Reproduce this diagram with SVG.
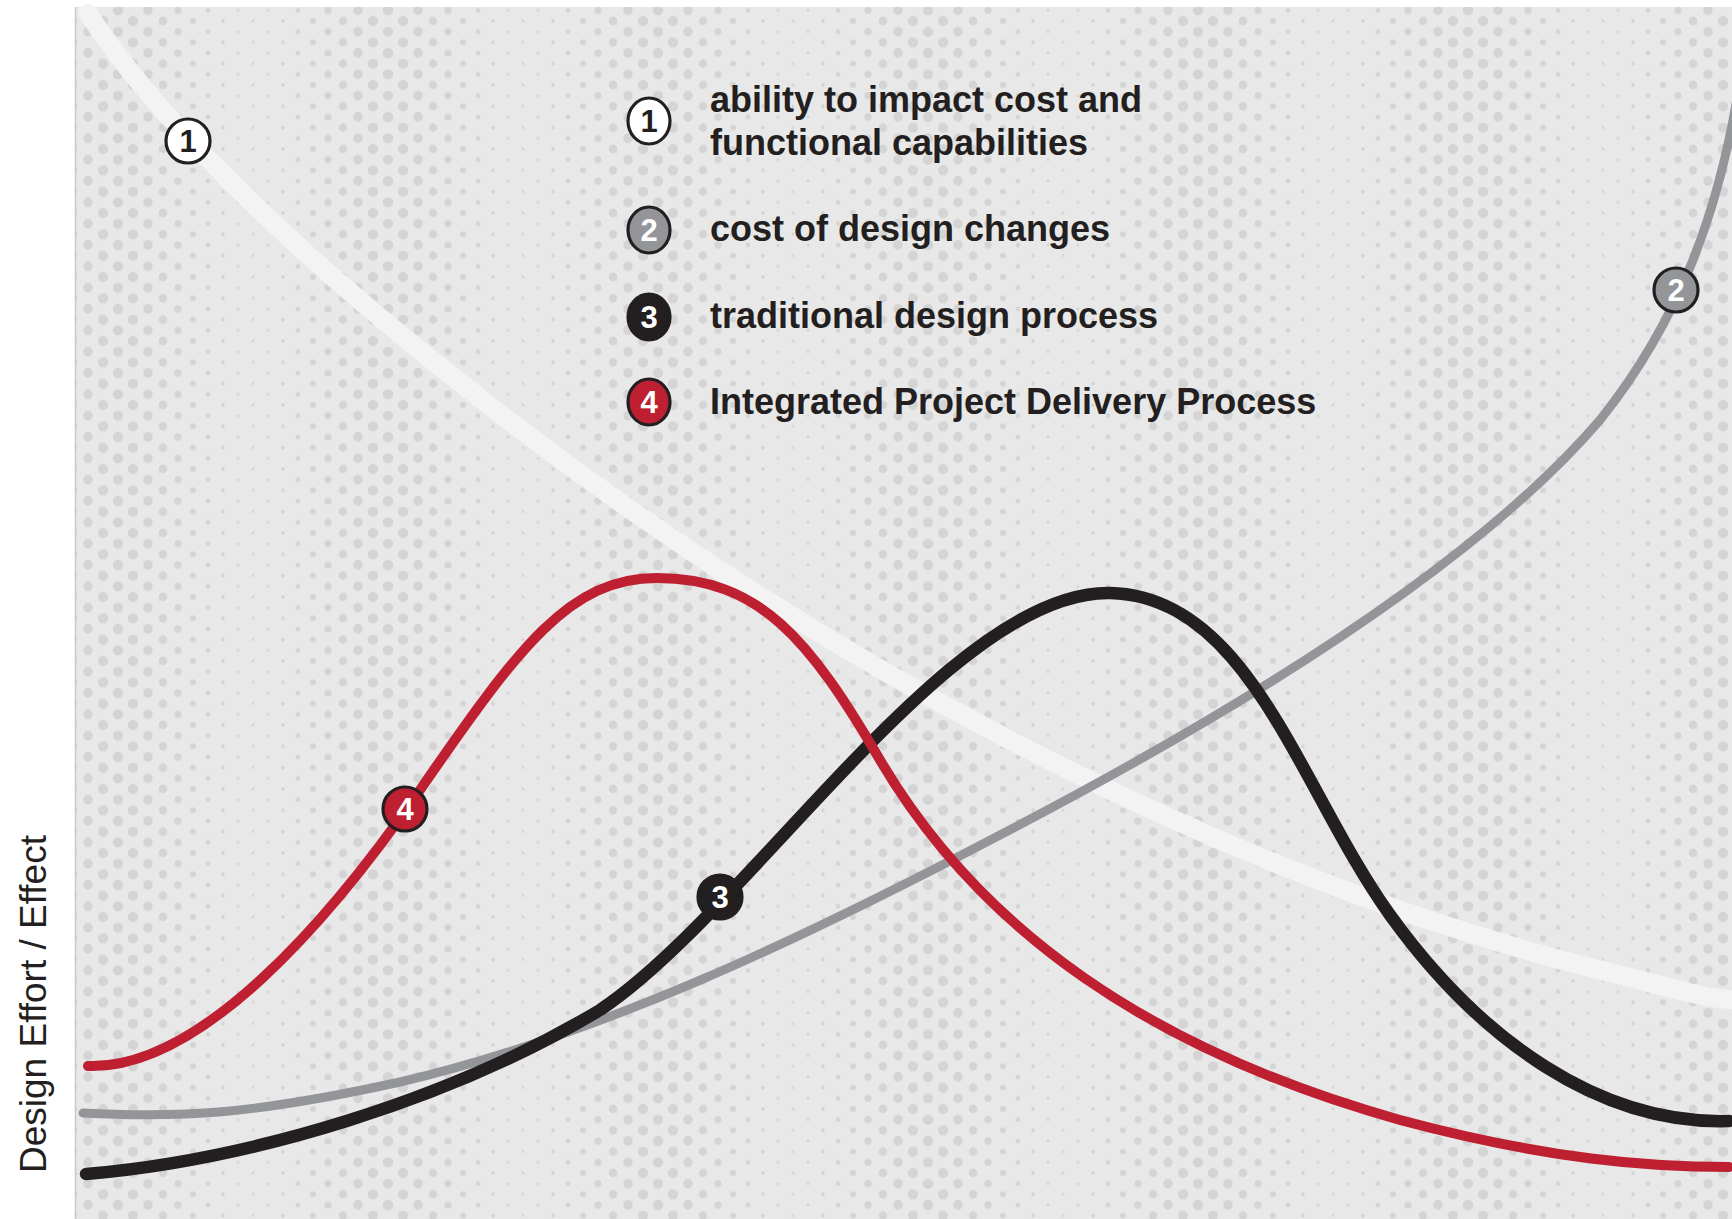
<svg xmlns="http://www.w3.org/2000/svg" width="1732" height="1219" viewBox="0 0 1732 1219">
<style>
.curve{fill:none;stroke-linecap:round;stroke-linejoin:round}
.c1{stroke:#f3f3f3;stroke-width:19}
.c2{stroke:#939598;stroke-width:9}
.c3{stroke:#231f20;stroke-width:12.5}
.c4{stroke:#be2032;stroke-width:10}
.mk{stroke:#231f20;stroke-width:3.2}
.num{font-family:"Liberation Sans",Arial,sans-serif;font-weight:bold;font-size:31px;text-anchor:middle}
.leg{font-family:"Liberation Sans",Arial,sans-serif;font-weight:bold;font-size:36px;fill:#231f20}
.axis{font-family:"Liberation Sans",Arial,sans-serif;font-size:37px;fill:#231f20}
</style>
<defs>
<pattern id="dots" patternUnits="userSpaceOnUse" x="-17" y="-0.33" width="270" height="21.333">
<g fill="#d4d4d4">
<circle cx="15" cy="10.667" r="1.51"/><circle cx="45" cy="10.667" r="2.35"/><circle cx="75" cy="10.667" r="3.63"/><circle cx="105" cy="10.667" r="4.76"/><circle cx="135" cy="10.667" r="5.2"/><circle cx="165" cy="10.667" r="4.76"/><circle cx="195" cy="10.667" r="3.63"/><circle cx="225" cy="10.667" r="2.35"/><circle cx="255" cy="10.667" r="1.51"/>
<circle cx="0" cy="0" r="1.4"/><circle cx="30" cy="0" r="1.84"/><circle cx="60" cy="0" r="2.97"/><circle cx="90" cy="0" r="4.25"/><circle cx="120" cy="0" r="5.09"/><circle cx="150" cy="0" r="5.09"/><circle cx="180" cy="0" r="4.25"/><circle cx="210" cy="0" r="2.97"/><circle cx="240" cy="0" r="1.84"/><circle cx="270" cy="0" r="1.4"/>
<circle cx="0" cy="21.333" r="1.4"/><circle cx="30" cy="21.333" r="1.84"/><circle cx="60" cy="21.333" r="2.97"/><circle cx="90" cy="21.333" r="4.25"/><circle cx="120" cy="21.333" r="5.09"/><circle cx="150" cy="21.333" r="5.09"/><circle cx="180" cy="21.333" r="4.25"/><circle cx="210" cy="21.333" r="2.97"/><circle cx="240" cy="21.333" r="1.84"/><circle cx="270" cy="21.333" r="1.4"/>
</g>
</pattern>
</defs>
<rect width="1732" height="1219" fill="#ffffff"/>
<g id="plot-area">
<rect x="75" y="7" width="1657" height="1212" fill="#e8e8e8"/>
<rect x="75" y="7" width="1657" height="1212" fill="url(#dots)"/>
<line x1="75.5" y1="7" x2="75.5" y2="1219" stroke="#c9c9cb" stroke-width="1.5"/>
</g>
<text class="axis" transform="translate(46,1173) rotate(-90)">Design Effort / Effect</text>
<g id="connectors">
<path id="curve-1" class="curve c1" d="M 88 13 C 150 110, 280 240, 453 377 S 800 630, 1000 735 S 1400 920, 1600 970 C 1680 990, 1710 1000, 1740 1000"/>
<path id="curve-2" class="curve c2" d="M 83 1113 C 180 1118, 250 1115, 400 1082 C 600 1035, 800 940, 1000 835 C 1250 705, 1480 560, 1600 420 C 1680 320, 1720 210, 1740 80"/>
<path id="curve-3" class="curve c3" d="M 86 1174 C 250 1160, 450 1100, 600 1010 C 750 910, 950 590, 1110 593 C 1250 596, 1300 790, 1390 915 C 1480 1040, 1600 1125, 1729 1121"/>
<path id="curve-4" class="curve c4" d="M 88 1066 C 200 1070, 330 920, 420 790 C 520 645, 570 578, 657 578 C 760 578, 810 640, 880 760 C 980 930, 1150 1050, 1400 1120 C 1550 1160, 1650 1167, 1729 1167"/>
</g>
<g id="marker-1"><circle class="mk" cx="188" cy="141" r="22" fill="#ffffff"/><text class="num" x="188" y="152" fill="#231f20">1</text></g>
<g id="marker-2"><circle class="mk" cx="1676" cy="290" r="22" fill="#939598"/><text class="num" x="1676" y="301" fill="#ffffff">2</text></g>
<g id="marker-3"><circle class="mk" cx="720" cy="897" r="22" fill="#231f20"/><text class="num" x="720" y="908" fill="#ffffff">3</text></g>
<g id="marker-4"><circle class="mk" cx="405" cy="809" r="22" fill="#be2032"/><text class="num" x="405" y="820" fill="#ffffff">4</text></g>
<g id="legend-1"><ellipse class="mk" cx="649" cy="121" rx="21" ry="23" fill="#ffffff"/><text class="num" x="649" y="132" fill="#231f20">1</text>
<text class="leg" x="710" y="112">ability to impact cost and</text><text class="leg" x="710" y="155">functional capabilities</text></g>
<g id="legend-2"><ellipse class="mk" cx="649" cy="230" rx="21" ry="23" fill="#939598"/><text class="num" x="649" y="241" fill="#ffffff">2</text>
<text class="leg" x="710" y="241">cost of design changes</text></g>
<g id="legend-3"><ellipse class="mk" cx="649" cy="317" rx="21" ry="23" fill="#231f20"/><text class="num" x="649" y="328" fill="#ffffff">3</text>
<text class="leg" x="710" y="328">traditional design process</text></g>
<g id="legend-4"><ellipse class="mk" cx="649" cy="402" rx="21" ry="23" fill="#be2032"/><text class="num" x="649" y="413" fill="#ffffff">4</text>
<text class="leg" x="710" y="414">Integrated Project Delivery Process</text></g>
</svg>
